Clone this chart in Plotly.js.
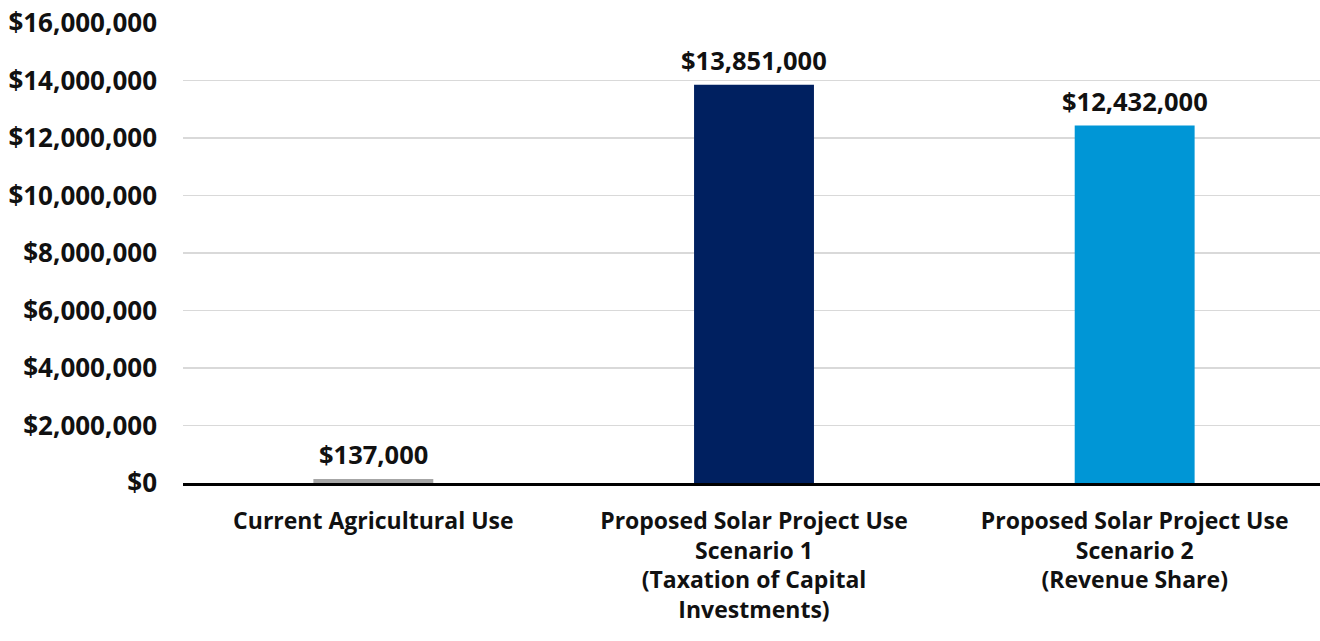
<!DOCTYPE html>
<html>
<head>
<meta charset="utf-8">
<script src="https://cdn.plot.ly/plotly-3.0.1.min.js"></script>
<style>html,body{margin:0;padding:0;background:#fff;overflow:hidden;}#chart{width:1325px;height:641px;}</style>
</head>
<body>
<div id="chart"></div>
<script>
const categories = [
  "Current Agricultural Use",
  "Proposed Solar Project Use<br>Scenario 1<br>(Taxation of Capital<br>Investments)",
  "Proposed Solar Project Use<br>Scenario 2<br>(Revenue Share)"
];
const values = [137000, 13851000, 12432000];
const valueLabels = ["$137,000", "$13,851,000", "$12,432,000"];
const barColors = ["#a6a6a6", "#002060", "#0096d6"];
const yTickVals = [0, 2000000, 4000000, 6000000, 8000000, 10000000, 12000000, 14000000, 16000000];
const yTickText = ["$0", "$2,000,000", "$4,000,000", "$6,000,000", "$8,000,000", "$10,000,000", "$12,000,000", "$14,000,000", "$16,000,000"];

const font = "'Open Sans', Lato, 'Liberation Sans', sans-serif";

const annotations = categories.map((c, i) => ({
  x: c, y: values[i], xref: "x", yref: "y",
  text: valueLabels[i], showarrow: false,
  yanchor: "bottom", yshift: 6,
  font: {family: font, size: 25.5, color: "#111", weight: "bold"}
}));

Plotly.newPlot("chart", [{
  type: "bar",
  x: categories,
  y: values,
  marker: {color: barColors},
  hoverinfo: "none"
}], {
  width: 1325, height: 641,
  margin: {l: 183, r: 0, t: 23, b: 158},
  paper_bgcolor: "#fff", plot_bgcolor: "#fff",
  bargap: 0.685,
  showlegend: false,
  annotations: annotations,
  font: {family: font, size: 22, color: "#111"},
  xaxis: {
    showline: true, linecolor: "#000", linewidth: 3,
    showgrid: false, ticks: "", ticklabelstandoff: 15,
    tickfont: {family: font, size: 23, color: "#111", weight: "bold"}
  },
  yaxis: {
    range: [0, 16000000],
    tickvals: yTickVals, ticktext: yTickText,
    showgrid: true, gridcolor: "#d9d9d9", gridwidth: 1.5,
    zeroline: false, showline: false, ticks: "",
    ticklabelstandoff: 25,
    tickfont: {family: font, size: 26, color: "#111", weight: "bold"}
  }
}, {displayModeBar: false, staticPlot: true});
</script>
</body>
</html>
